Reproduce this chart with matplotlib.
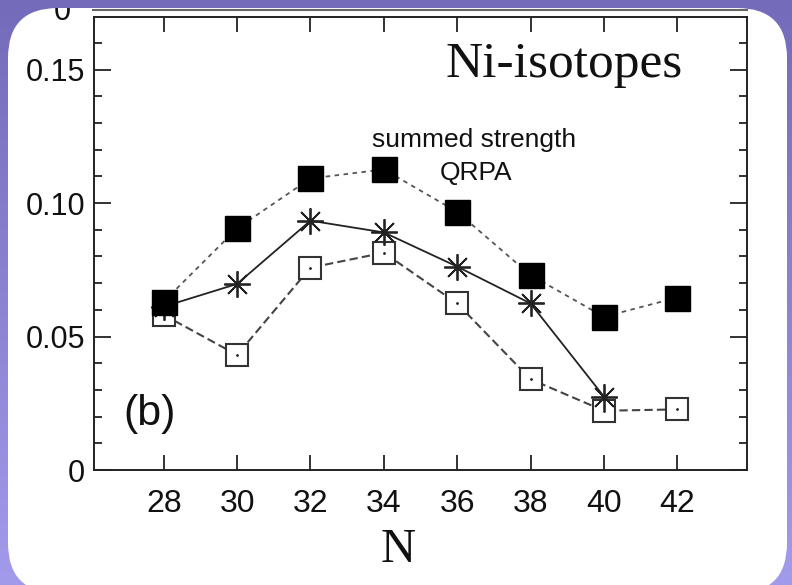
import numpy as np
import matplotlib
matplotlib.use("Agg")
import matplotlib.pyplot as plt
from matplotlib.patches import FancyBboxPatch, Rectangle
from matplotlib.lines import Line2D
from matplotlib.transforms import IdentityTransform
from matplotlib.ticker import MultipleLocator, FixedLocator

# ---- data ----
N = [28, 30, 32, 34, 36, 38, 40, 42]
summed_filled = [0.0631, 0.0905, 0.1092, 0.1126, 0.0967, 0.0730, 0.0574, 0.0646]
N_star = [28, 30, 32, 34, 36, 38, 40]
qrpa_star = [0.0612, 0.0697, 0.0934, 0.0890, 0.0762, 0.0624, 0.0275]
summed_open = [0.0581, 0.0431, 0.0758, 0.0814, 0.0624, 0.0340, 0.0222, 0.0227]
x_ticks = [28, 30, 32, 34, 36, 38, 40, 42]
y_ticks = [0, 0.05, 0.10, 0.15]
y_ticklabels = ["0", "0.05", "0.10", "0.15"]

W, H = 792, 585
fig = plt.figure(figsize=(W / 100, H / 100), dpi=100)

# purple gradient background
bg = fig.add_axes([0, 0, 1, 1], zorder=-10)
top = np.array([116, 108, 186]) / 255
bot = np.array([162, 154, 234]) / 255
t = np.linspace(0, 1, 256)[:, None]
grad = (top[None, :] * (1 - t) + bot[None, :] * t)[:, None, :]
bg.imshow(grad, aspect="auto", extent=[0, 1, 0, 1])
bg.axis("off")

# white rounded panel (pixel coordinates)
panel = FancyBboxPatch((8, -8), 779, 8 + 577,
                       boxstyle="round,pad=0,rounding_size=50",
                       transform=IdentityTransform(), facecolor="white",
                       edgecolor="none", zorder=-5)
fig.patches.append(panel)

sans = "Liberation Sans"
serif = "Liberation Serif"

ax = fig.add_axes([94 / W, 1 - 470 / H, 653 / W, 453 / H], zorder=1)
ax.set_facecolor("none")

# open squares, dashed
ax.plot(N, summed_open, linestyle=(0, (4, 2)), color="#444444", lw=1.5,
        marker="s", markersize=16, markerfacecolor="white",
        markeredgecolor="#333333", markeredgewidth=1.5, zorder=3)
ax.plot(N, summed_open, linestyle="none", marker=".", markersize=2,
        color="#222222", zorder=3.1)
# asterisks, solid
ax.plot(N_star, qrpa_star, linestyle="-", color="#222222", lw=1.3,
        marker=(8, 2, 0), markersize=19, markeredgecolor="#222222",
        markeredgewidth=1.3, zorder=4)
# filled squares, dotted
ax.plot(N, summed_filled, linestyle=(0, (2.5, 2.5)), color="#555555", lw=1.3,
        marker="s", markersize=18, markerfacecolor="black",
        markeredgecolor="black", zorder=5)

ax.set_xlim(26.1, 43.9)
ax.set_ylim(0, 0.1697)
ax.xaxis.set_major_locator(FixedLocator(x_ticks))
ax.set_yticks(y_ticks)
ax.set_yticklabels(y_ticklabels)
ax.yaxis.set_minor_locator(MultipleLocator(0.01))

for s in ax.spines.values():
    s.set_linewidth(1.4)
    s.set_color("#222222")

ax.tick_params(axis="both", which="both", direction="in", top=True, right=True,
               color="#222222", width=1.3)
ax.tick_params(axis="x", which="major", length=11, pad=14, labelsize=23)
ax.tick_params(axis="y", which="major", length=12, pad=6.5, labelsize=22)
ax.tick_params(axis="y", which="minor", length=6)
for lab in ax.get_xticklabels() + ax.get_yticklabels():
    lab.set_fontfamily(sans)
    lab.set_color("#111111")

# texts
fig.text(564 / W, 1 - 77 / H, "Ni-isotopes", family=serif, fontsize=37,
         ha="center", va="baseline", color="#111111", zorder=6)
fig.text(474 / W, 1 - 147 / H, "summed strength", family=sans, fontsize=19,
         ha="center", va="baseline", color="#111111", zorder=6)
fig.text(476 / W, 1 - 180 / H, "QRPA", family=sans, fontsize=19,
         ha="center", va="baseline", color="#111111", zorder=6)
fig.text(150 / W, 1 - 425 / H, "(b)", family=sans, fontsize=31,
         ha="center", va="baseline", color="#111111", zorder=6)
fig.text(398 / W, 1 - 562 / H, "N", family=serif, fontsize=35,
         ha="center", va="baseline", color="#111111", zorder=6)

# cut-off label and spine of the panel above
fig.text(62 / W, 1 - 20 / H, "0", family=sans, fontsize=22,
         ha="center", va="baseline", color="#111111", zorder=2)
fig.lines.append(Line2D([93 / W, 747 / W], [1 - 9.5 / H, 1 - 9.5 / H],
                        transform=fig.transFigure, color="#666666", lw=1.5,
                        zorder=2))
fig.patches.append(Rectangle((0, 1 - 8 / H), 1, 8 / H, transform=fig.transFigure,
                             facecolor=top, edgecolor="none", zorder=3))

fig.savefig("out.png", dpi=100)
